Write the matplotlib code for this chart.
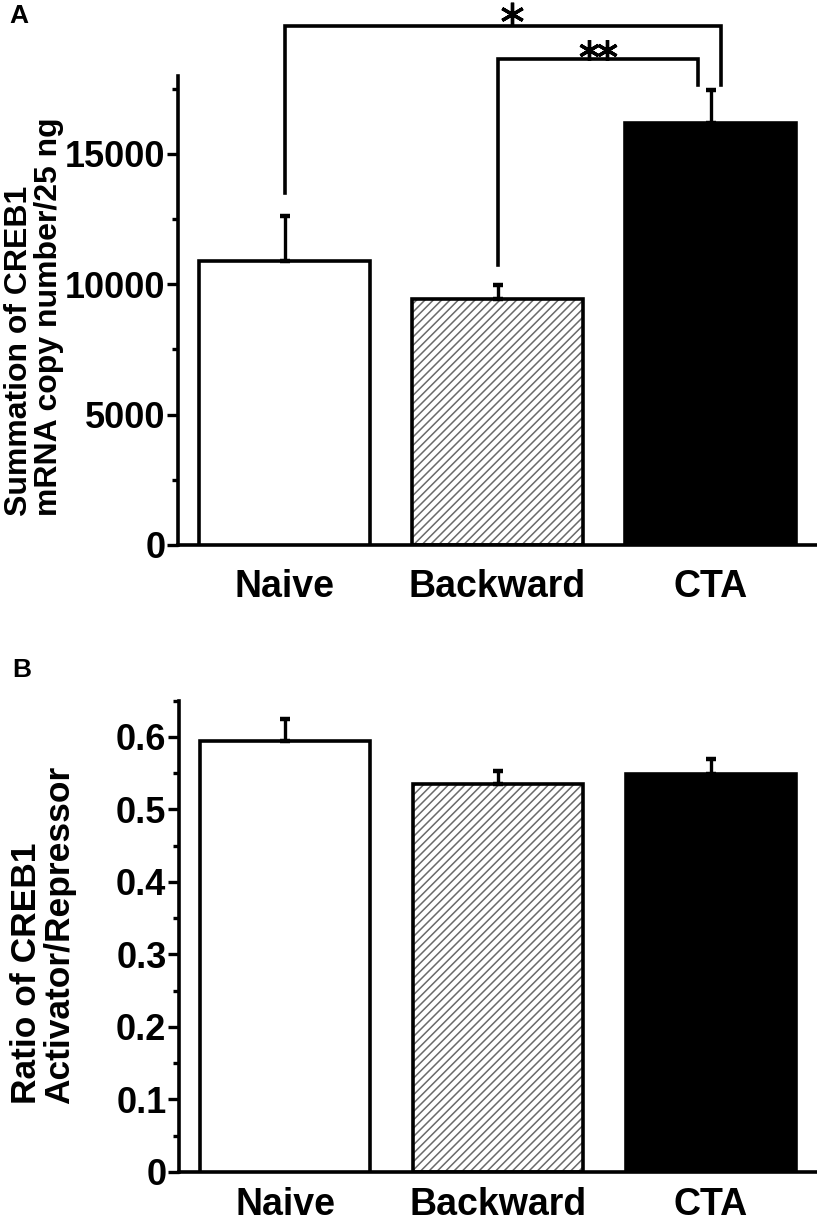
import numpy as np
import matplotlib
matplotlib.use('Agg')
import matplotlib.pyplot as plt
from matplotlib.ticker import MultipleLocator

# Dados
grupos = ['Naive', 'Backward', 'CTA']
soma_media = [10900, 9450, 16180]
soma_erro = [1730, 510, 1250]
razao_media = [0.595, 0.535, 0.549]
razao_erro = [0.030, 0.018, 0.021]

# colchetes de significância do painel A
sig_inicio = [0, 1]
sig_fim = [2.05, 1.94]
sig_topo = [19900, 18650]
sig_base_esq = [13500, 10750]
sig_base_dir = [17650, 17650]
sig_rotulo = ['*', '**']

plt.rcParams['font.family'] = ['Liberation Sans', 'DejaVu Sans']
plt.rcParams['font.weight'] = 'bold'
plt.rcParams['hatch.linewidth'] = 1.1

fig = plt.figure(figsize=(8.17, 12.19), dpi=100)
axA = fig.add_axes([0.218, 0.553, 0.782, 0.385])
axB = fig.add_axes([0.219, 0.0386, 0.781, 0.3866])


def desenha_barras(ax, medias, erros):
    x = np.arange(len(grupos))
    # barra hachurada (Backward)
    ax.bar(x[1], medias[1], width=0.8, color='white', edgecolor='#6a6a6a',
           hatch='////', linewidth=0, zorder=2)
    ax.bar(x, medias, width=0.8, color=['white', 'none', 'black'],
           edgecolor='black', linewidth=2.6, zorder=3)
    ax.errorbar(x, medias, yerr=[np.zeros(len(x)), erros], fmt='none',
                ecolor='black', elinewidth=2.4, capsize=3.5, capthick=3.2,
                zorder=4)
    ax.set_xlim(-0.5, 2.5)
    ax.set_xticks(x)
    ax.set_xticklabels(grupos, fontsize=27, fontweight='bold')
    ax.spines['top'].set_visible(False)
    ax.spines['right'].set_visible(False)
    ax.spines['left'].set_linewidth(2.6)
    ax.spines['bottom'].set_linewidth(2.6)
    ax.tick_params(axis='x', length=0)
    ax.tick_params(axis='y', which='major', length=8, width=2.4, pad=1,
                   labelsize=26)
    ax.tick_params(axis='y', which='minor', length=4, width=2.4)
    return x


# Painel A
x = desenha_barras(axA, soma_media, soma_erro)
axA.set_ylim(0, 18000)
axA.set_yticks([0, 5000, 10000, 15000])
axA.set_yticklabels(['0', '5000', '10000', '15000'])
axA.yaxis.set_minor_locator(MultipleLocator(2500))
axA.tick_params(axis='x', pad=17)
axA.text(-0.226, 0.486, 'Summation of CREB1\nmRNA copy number/25 ng',
         transform=axA.transAxes, rotation=90, ha='center', va='center',
         multialignment='left', fontsize=23, fontweight='bold',
         linespacing=1.0)

for ini, fim, topo, be, bd, rot in zip(sig_inicio, sig_fim, sig_topo,
                                       sig_base_esq, sig_base_dir, sig_rotulo):
    axA.plot([ini, ini, fim, fim], [be, topo, topo, bd], color='black',
             lw=2.6, clip_on=False, solid_joinstyle='miter', zorder=5)
    if rot == '*':
        axA.plot([ini + 1.07], [topo + 470], marker=(6, 2, 0), ms=17, mew=2.4,
                 color='black', clip_on=False, zorder=6)
    else:
        meio = (ini + fim) / 2
        axA.plot([meio - 0.042, meio + 0.042], [topo + 340, topo + 340],
                 ls='none', marker=(6, 2, 0), ms=15, mew=2.4, color='black',
                 clip_on=False, zorder=6)

# Painel B
desenha_barras(axB, razao_media, razao_erro)
axB.set_ylim(0, 0.65)
axB.set_yticks([0, 0.1, 0.2, 0.3, 0.4, 0.5, 0.6])
axB.set_yticklabels(['0', '0.1', '0.2', '0.3', '0.4', '0.5', '0.6'])
axB.yaxis.set_minor_locator(MultipleLocator(0.05))
axB.tick_params(axis='x', pad=11)
axB.text(-0.213, 0.503, 'Ratio of CREB1\nActivator/Repressor',
         transform=axB.transAxes, rotation=90, ha='center', va='center',
         multialignment='left', fontsize=25.5, fontweight='bold',
         linespacing=1.0)

fig.text(0.011, 0.997, 'A', fontsize=19, fontweight='bold', va='top')
fig.text(0.015, 0.460, 'B', fontsize=19, fontweight='bold', va='top')

fig.savefig('out.png', dpi=100)
